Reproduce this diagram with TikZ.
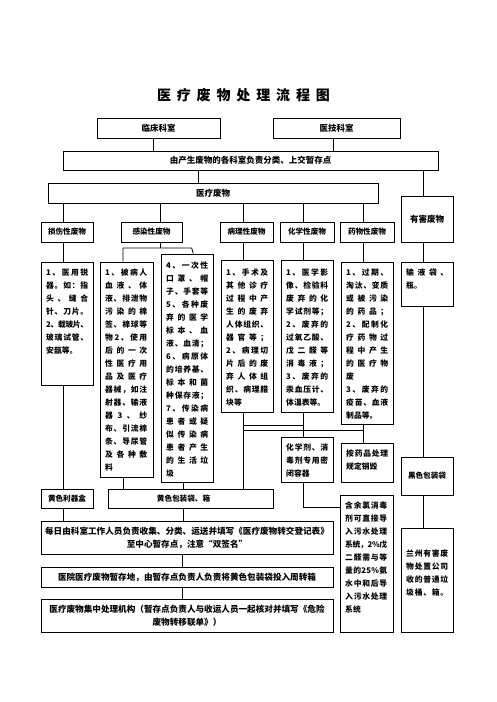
\documentclass[tikz,border=0pt]{standalone}
\usepackage{fontspec}
\setmainfont{Noto Sans CJK SC}
\def\sprA#1{#1\sprB}
\def\sprB#1{\ifx\relax#1\else\hskip0pt plus 1fil minus 0.5pt#1\expandafter\sprB\fi}
\newcommand\spr[1]{\leavevmode\hbox to 42pt{\sprA#1\relax}}
\newcommand\B[7][]{\node[box,#1,minimum width={(#5-#3)*1pt},minimum height={(#6-#4)*1pt}] (#2) at ({(#3+#5)/2},{(#4+#6)/2}) {#7};}
\newcommand\T[4]{\node[txt] (#1) at (#2,#3) {#4};}
\begin{document}
\begin{tikzpicture}[x=1pt,y=-1pt,
  box/.style={draw, line width=0.8pt, inner sep=0pt, font=\fontsize{8.5}{13}\selectfont\bfseries},
  sm/.style={font=\fontsize{7.6}{13}\selectfont\bfseries},
  bg/.style={align=center, font=\fontsize{8.6}{13}\selectfont\bfseries},
  ln/.style={draw, line width=0.8pt},
  txt/.style={anchor=north west, inner sep=0pt, text width=42pt, align=left, font=\fontsize{7.8}{13}\selectfont\bfseries}]
\useasboundingbox (0,0) rectangle (496,702);
\node (title) at (243.5,95) {\fontsize{14}{14}\selectfont\bfseries\hbox to 173pt{\sprA 医疗废物处理流程图\relax}};
% top boxes
\B{lc}{97}{118}{220}{138}{临床科室}
\B{yj}{273}{118}{400}{138}{医技科室}
\B{fl}{63}{151}{438}{170}{由产生废物的各科室负责分类、上交暂存点}
\B{ylfw}{48}{183}{378}{203}{医疗废物}
\B{yhC}{401}{196}{453}{242}{有害废物}
% categories
\B[sm]{ssC}{41}{222}{93}{242}{损伤性废物}
\B[sm]{grC}{121}{222}{182}{242}{感染性废物}
\B[sm]{blC}{220}{222}{273}{242}{病理性废物}
\B[sm]{hxC}{280}{222}{334}{242}{化学性废物}
\B[sm]{ywC}{340}{222}{394}{242}{药物性废物}
% content boxes
\B{ss}{41}{262}{93}{385}{}
\B{gr1}{100}{262}{153}{477}{}
\B{gr2}{161}{254}{213}{482}{}
\B{bl}{221}{260}{273}{412}{}
\B{hx}{281}{260}{333}{412}{}
\B{yw}{341}{262}{393}{424}{}
\B{yh}{401}{262}{453}{306}{}
\B{hxj}{281}{437}{333}{482}{}
\B{ypcl}{341}{443}{393}{482}{}
\B[sm]{hs}{401}{457}{453}{495}{黑色包装袋}
\B{hy}{340}{495}{393}{632}{}
\B{lz}{401}{528}{453}{632}{}
\B[sm]{ljh}{41}{489}{93}{508}{黄色利器盒}
\B[sm]{hbd}{108}{489}{273}{508}{\hspace*{-14pt}黄色包装袋、箱}
\B[bg]{big1}{41}{521}{333}{554}{每日由科室工作人员负责收集、分类、运送并填写《医疗废物转交登记表》\\至中心暂存点，注意“双签名”}
\B[bg]{big2}{41}{567}{333}{587}{医院医疗废物暂存地，由暂存点负责人负责将黄色包装袋投入周转箱}
\B[bg]{big3}{41}{599}{333}{632}{医疗废物集中处理机构（暂存点负责人与收运人员一起核对并填写《危险\\废物转移联单》）}
% texts
\T{ssT}{46}{268.4}{\spr{1、医用锐}\\\spr{器。如：指}\\\spr{头、缝合}\\\spr{针、刀片。}\\\spr{2、载玻片、}\\\spr{玻璃试管、}\\安瓿等。}
\T{gr1T}{105}{268.4}{\spr{1、被病人}\\\spr{血液、体}\\\spr{液、排泄物}\\\spr{污染的棉}\\\spr{签、棉球等}\\\spr{物2、使用}\\\spr{后的一次}\\\spr{性医疗用}\\\spr{品及医疗}\\\spr{器械，如注}\\\spr{射器、输液}\\\spr{器3、纱}\\\spr{布、引流棉}\\\spr{条、导尿管}\\\spr{及各种敷}\\料}
\T{gr2T}{166}{261.4}{\spr{4、一次性}\\\spr{口罩、帽}\\\spr{子、手套等}\\\spr{5、各种废}\\\spr{弃的医学}\\\spr{标本、血}\\\spr{液、血清；}\\\spr{6、病原体}\\\spr{的培养基、}\\\spr{标本和菌}\\\spr{种保存液；}\\\spr{7、传染病}\\\spr{患者或疑}\\\spr{似传染病}\\\spr{患者产生}\\\spr{的生活垃}\\圾}
\T{blT}{226}{268.4}{\spr{1、手术及}\\\spr{其他诊疗}\\\spr{过程中产}\\\spr{生的废弃}\\\spr{人体组织、}\\\spr{器官等；}\\\spr{2、病理切}\\\spr{片后的废}\\\spr{弃人体组}\\\spr{织、病理腊}\\块等}
\T{hxT}{286}{268.4}{\spr{1、医学影}\\\spr{像、检验科}\\\spr{废弃的化}\\\spr{学试剂等；}\\\spr{2、废弃的}\\\spr{过氧乙酸、}\\\spr{戊二醛等}\\\spr{消毒液；}\\\spr{3、废弃的}\\\spr{汞血压计、}\\体温表等。}
\T{ywT}{346}{268.4}{\spr{1、过期、}\\\spr{淘汰、变质}\\\spr{或被污染}\\\spr{的药品；}\\\spr{2、配制化}\\\spr{疗药物过}\\\spr{程中产生}\\\spr{的医疗物}\\废\\\spr{3、废弃的}\\\spr{疫苗、血液}\\制品等。}
\T{yhT}{406}{268.4}{\spr{输液袋、}\\瓶。}
\T{hxjT}{286}{443.4}{\spr{化学剂、消}\\\spr{毒剂专用密}\\闭容器}
\T{ypclT}{346}{449.4}{\spr{按药品处理}\\规定销毁}
\T{hyT}{345}{501.4}{\spr{含余氯消毒}\\\spr{剂可直接导}\\\spr{入污水处理}\\\spr{系统，2\%戊}\\\spr{二醛需与等}\\\spr{量的25\%氨}\\\spr{水中和后导}\\\spr{入污水处理}\\系统}
\T{lzT}{406}{549.4}{\spr{兰州有害废}\\\spr{物处置公司}\\\spr{收的普通垃}\\\spr{圾桶、箱。}}
% connectors
\draw[ln] (lc.south -| 153,0) -- (fl.north -| 153,0);
\draw[ln] (yj.south -| 333,0) -- (fl.north -| 333,0);
\draw[ln] (fl.south -| 198,0) -- (ylfw.north -| 198,0);
\draw[ln] (fl.south -| 423,0) -- (yhC.north -| 423,0);
\draw[ln] (ylfw.south -| 63,0) -- (ssC.north -| 63,0);
\draw[ln] (ylfw.south -| 160,0) -- (grC.north -| 160,0);
\draw[ln] (ylfw.south -| 243,0) -- (blC.north -| 243,0);
\draw[ln] (ylfw.south -| 303,0) -- (hxC.north -| 303,0);
\draw[ln] (ylfw.south -| 363,0) -- (ywC.north -| 363,0);
\draw[ln] (ssC.south -| 63,0) -- (ss.north -| 63,0);
\coordinate (grJ) at (160,248);
\coordinate (grL) at (123,248);
\coordinate (grR) at (191.7,248);
\draw[ln] (grC.south -| grJ) -- (grJ);
\draw[ln] (gr1.north -| grL) -- (grL) -- (grR) -- (gr2.north -| 193.3,0);
\draw[ln] (blC.south -| 243,0) -- (bl.north -| 243,0);
\draw[ln] (hxC.south -| 303,0) -- (hx.north -| 303,0);
\draw[ln] (ywC.south -| 363,0) -- (yw.north -| 363,0);
\draw[ln] (yhC.south -| 423,0) -- (yh.north -| 423,0);
\draw[ln] (ss.south -| 63,0) -- (ljh.north -| 63,0);
\draw[ln] (gr1.south -| 123,0) -- (hbd.north -| 123,0);
\draw[ln] (gr2.south -| 183,0) -- (hbd.north -| 183,0);
\draw[ln] (bl.south -| 243,0) -- (hbd.north -| 243,0);
\coordinate (jA) at (243,425);
\coordinate (jC) at (243,430);
\draw[ln] (hx.south -| 303,0) -- (hxj.north -| 303,0);
\draw[ln] (jA) -- (jA -| 303,0);
\draw[ln] (yw.south -| 363,0) -- (ypcl.north -| 363,0);
\draw[ln] (jC) -- (jC -| 363,0);
\draw[ln] (yh.south -| 423,0) -- (hs.north -| 423,0);
\draw[ln] (hs.south -| 423,0) -- (lz.north -| 423,0);
\draw[ln] (hxj.south -| 303,0) |- (hy.west |- 0,507);
\draw[ln] (ljh.south -| 63,0) -- (big1.north -| 63,0);
\draw[ln] (hbd.south -| 183,0) -- (big1.north -| 183,0);
\draw[ln] (big1.south -| 182,0) -- (big2.north -| 182,0);
\draw[ln] (big2.south -| 182,0) -- (big3.north -| 182,0);
\end{tikzpicture}
\end{document}
